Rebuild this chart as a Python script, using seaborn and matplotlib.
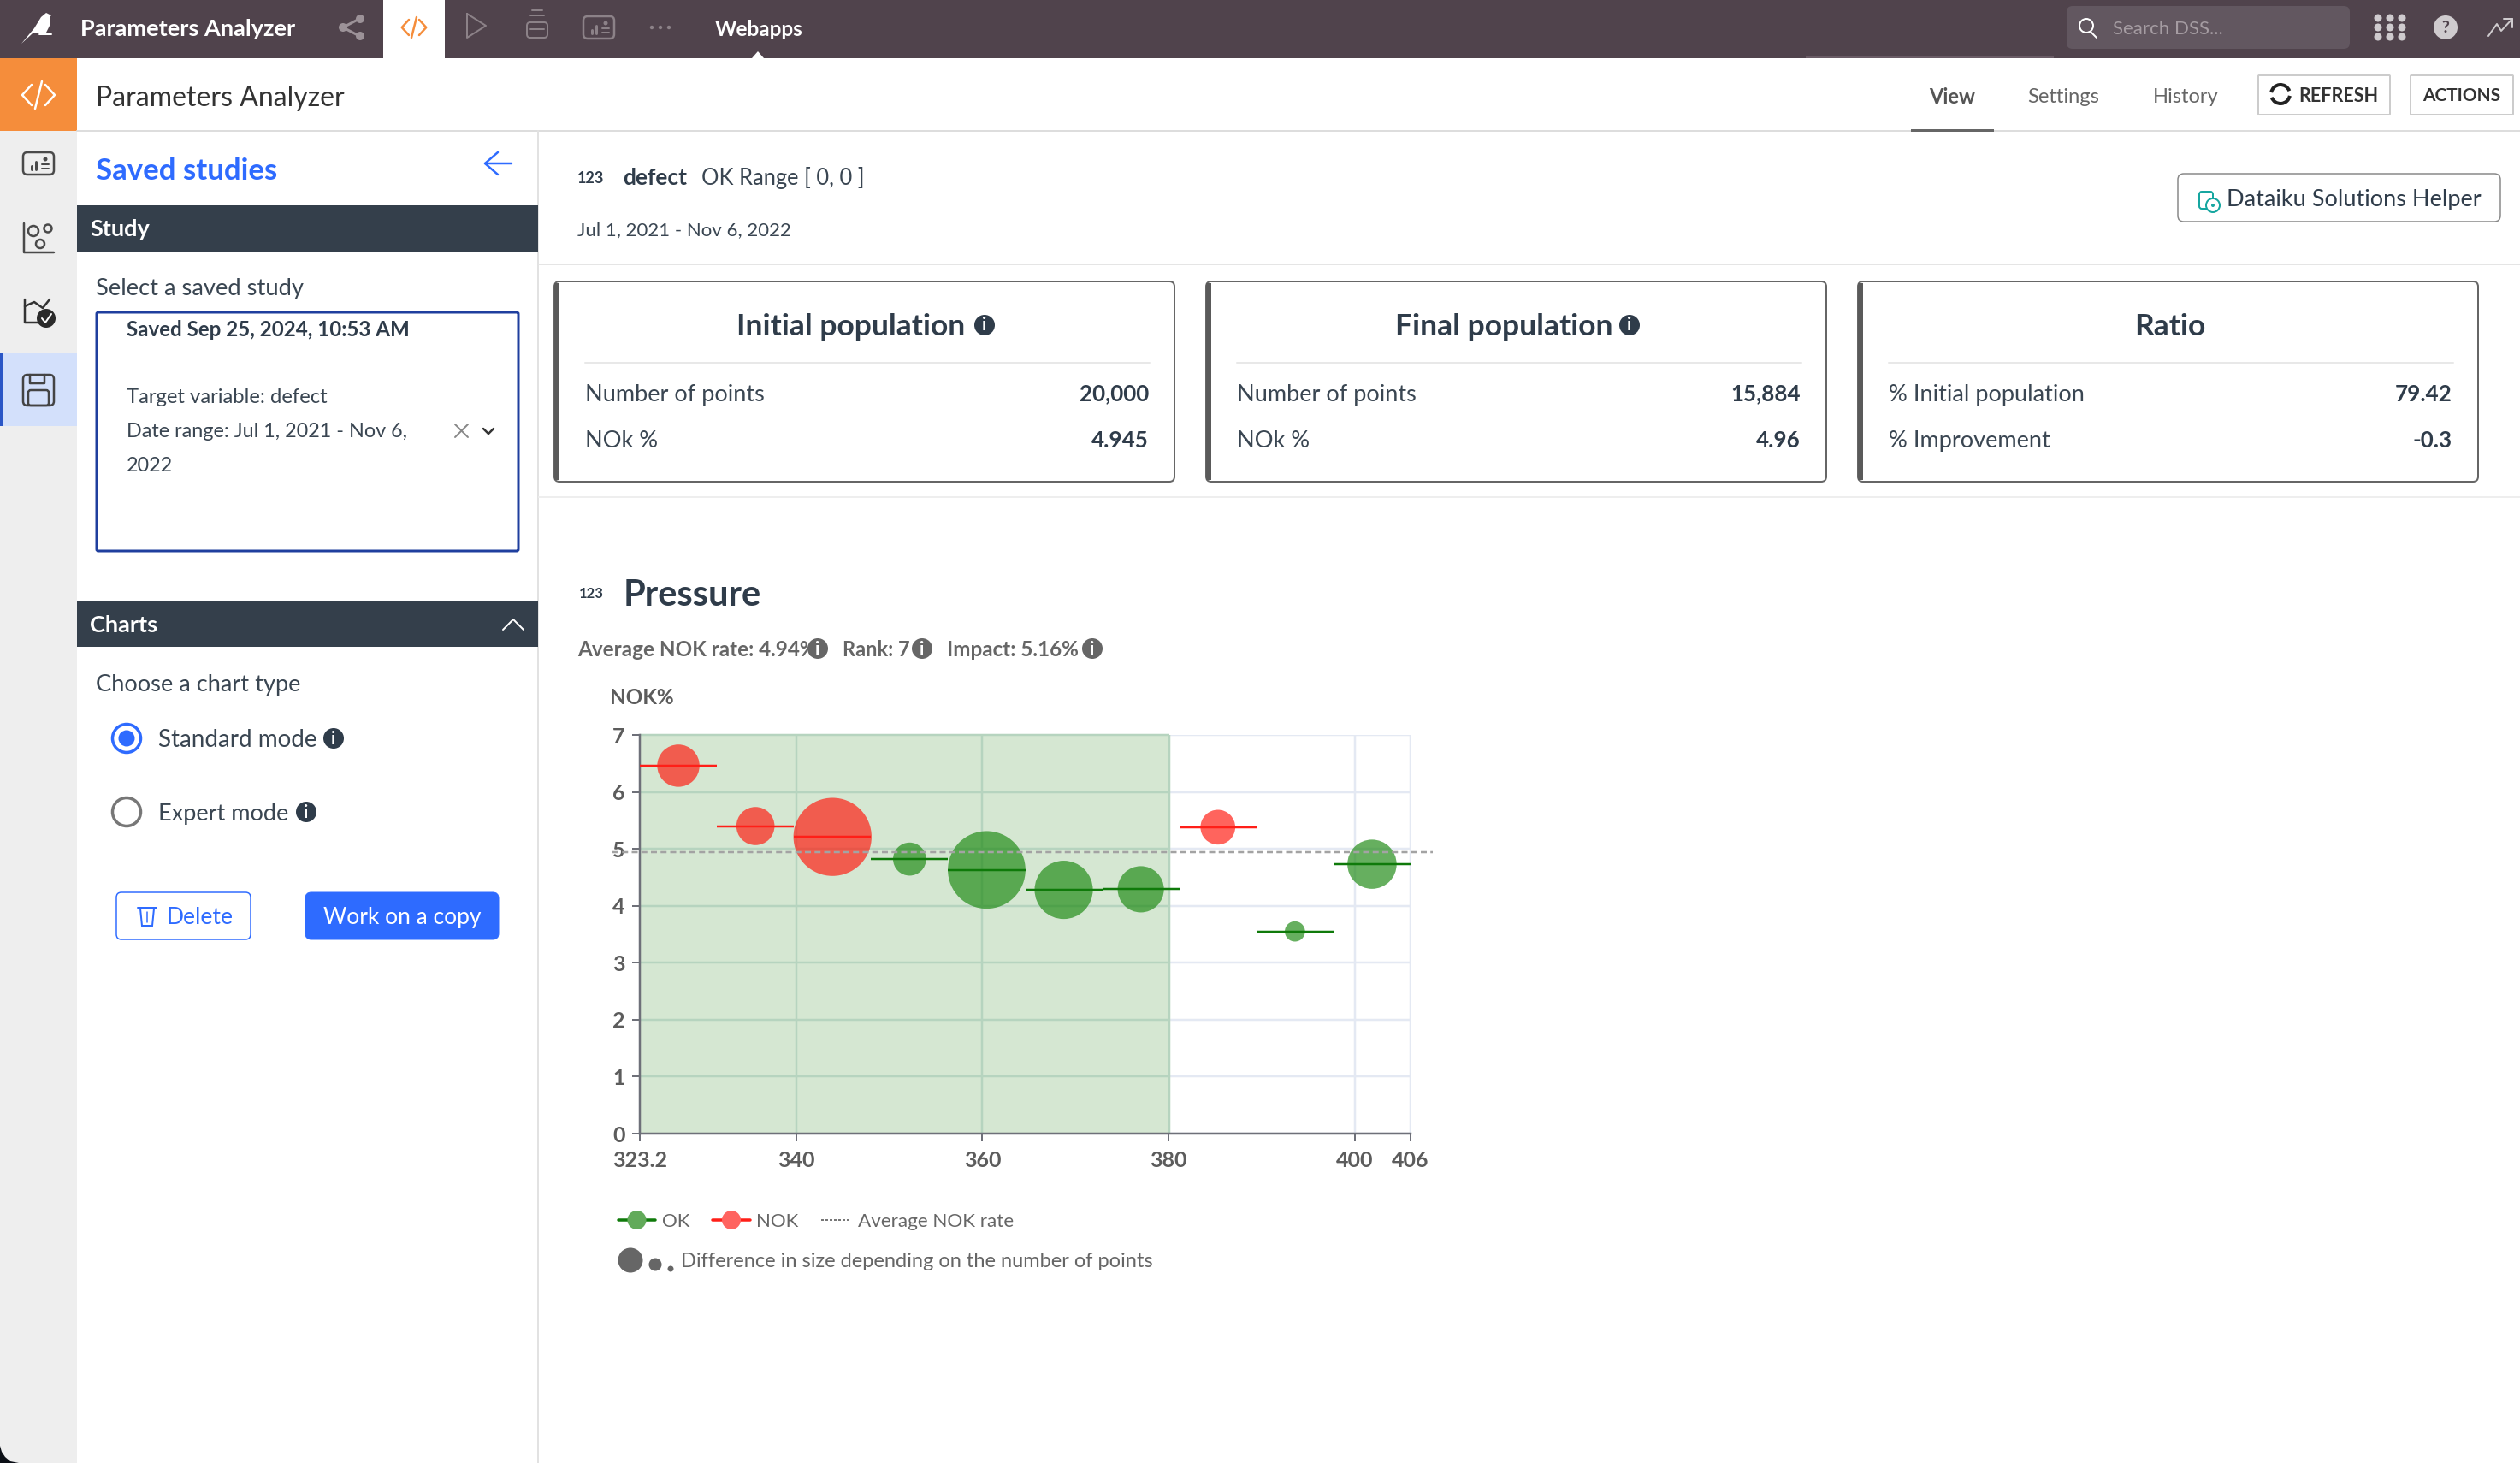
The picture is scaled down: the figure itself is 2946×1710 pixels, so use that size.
import matplotlib
matplotlib.use("Agg")
import matplotlib.pyplot as plt
import numpy as np
import pandas as pd
import seaborn as sns
from matplotlib.patches import Circle, FancyBboxPatch, Polygon, Rectangle, Arc

# chart values
bin_edges = [323.2, 331.48, 339.76, 348.04, 356.32, 364.6, 372.88, 381.16, 389.44, 397.72, 406.0]
bin_centers = [327.34, 335.62, 343.9, 352.18, 360.46, 368.74, 377.02, 385.3, 393.58, 401.86]
nok_rate = [6.46, 5.40, 5.21, 4.82, 4.63, 4.28, 4.29, 5.38, 3.55, 4.73]
n_points = [1375, 1120, 4690, 840, 4630, 2610, 1645, 930, 315, 1860]
status = ['NOK', 'NOK', 'NOK', 'OK', 'OK', 'OK', 'OK', 'NOK', 'OK', 'OK']
avg_nok = 4.94
ok_range = [323.2, 380.1]
x_ticks = [323.2, 340, 360, 380, 400, 406]
x_tick_labels = ['323.2', '340', '360', '380', '400', '406']
y_ticks = [0, 1, 2, 3, 4, 5, 6, 7]
y_tick_labels = ['0', '1', '2', '3', '4', '5', '6', '7']

card_titles = ['Initial population', 'Final population', 'Ratio']
card_rows = [['Number of points', 'NOk %'], ['Number of points', 'NOk %'], ['% Initial population', '% Improvement']]
card_values = [['20,000', '4.945'], ['15,884', '4.96'], ['79.42', '-0.3']]

W, H = 2946, 1710
DARK = '#2f3c4a'
GREY = '#666666'
BLUE = '#2e6bff'
BAR = '#343f4b'
TOP = '#50434c'
RED = '#ff1f18'
BAND_GRID = '#b6d4bf'

sns.set_style("white")
plt.rcParams['font.family'] = ['Lato', 'DejaVu Sans']

fig = plt.figure(figsize=(W / 100, H / 100), dpi=100, facecolor='white')
ui = fig.add_axes([0, 0, 1, 1])
ui.set_xlim(0, W)
ui.set_ylim(H, 0)
ui.axis('off')


def px(v):
    return v * 0.72


def label(x, y, s, size=19, color=DARK, weight='normal', ha='left'):
    ui.text(x, y - 0.5, s, fontsize=size, color=color, fontweight=weight, ha=ha, va='center_baseline')


def rect(x0, y0, x1, y1, color, z=1):
    ui.add_patch(Rectangle((x0, y0), x1 - x0, y1 - y0, facecolor=color, edgecolor='none', zorder=z))


def box(x0, y0, x1, y1, face='white', edge='#888888', lw=2, round_=6):
    ui.add_patch(FancyBboxPatch((x0, y0), x1 - x0, y1 - y0, boxstyle=f'round,pad=0,rounding_size={round_}',
                                facecolor=face, edgecolor=edge, linewidth=px(lw), zorder=2))


def line(xs, ys, color, lw=2, ls='-', z=3):
    ui.plot(xs, ys, color=color, linewidth=px(lw), linestyle=ls, zorder=z, solid_capstyle='round')


def dot(x, y, r, color, z=3, edge='none', lw=0):
    ui.add_patch(Circle((x, y), r, facecolor=color, edgecolor=edge, linewidth=px(lw), zorder=z))


def info(x, y, r=12, color=DARK):
    dot(x, y, r, color)
    ui.text(x, y + 0.5, 'i', fontsize=r * 1.25, color='white', fontweight='bold', ha='center', va='center', zorder=4)


def code_icon(x, y, color, s=1.0):
    line([x - 8 * s, x - 19 * s, x - 8 * s], [y - 12 * s, y, y + 12 * s], color, 2.5)
    line([x + 8 * s, x + 19 * s, x + 8 * s], [y - 12 * s, y, y + 12 * s], color, 2.5)
    line([x - 4 * s, x + 4 * s], [y + 16 * s, y - 16 * s], color, 2.5)


def dash_icon(x, y, color):
    box(x - 18, y - 13, x + 18, y + 13, face='none', edge=color, lw=2.5, round_=5)
    for dx, h in [(-8, 4), (-3, 9)]:
        line([x + dx, x + dx], [y + 7, y + 7 - h], color, 3)
    dot(x + 8, y - 5, 2.5, color)
    line([x + 4, x + 12], [y + 1, y + 1], color, 2)
    line([x + 4, x + 12], [y + 6, y + 6], color, 2)


# top bar
rect(0, 0, W, 68, TOP)
rect(448, 0, 520, 68, 'white')
rect(2111, 66, 2401, 68, '#6a5c66')
ui.add_patch(Polygon([[25, 51], [40, 33], [48, 20], [54, 15], [58, 17], [60, 18], [58, 20], [58, 30], [54, 38], [44, 38], [38, 39]],
                     facecolor='white', edgecolor='none', zorder=3))
line([46, 60], [40, 40], 'white', 2)
label(94, 33, 'Parameters Analyzer', 19.5, 'white', 'bold')
dot(401, 32, 5, '#9c9298')
for dy in (-10, 10):
    line([401, 420], [32, 32 + dy], '#9c9298', 3)
    dot(421, 32 + dy, 5, '#9c9298')
code_icon(484, 32, '#f58d3b', 0.75)
line([546, 546, 568, 546], [16, 44, 30, 16], '#8c8288', 2)
box(616, 26, 640, 44, face='none', edge='#8c8288', lw=2, round_=4)
line([620, 636], [18, 18], '#8c8288', 2)
line([622, 634], [12, 12], '#8c8288', 2)
line([620, 636], [34, 34], '#8c8288', 2)
dash_icon(700, 32, '#8c8288')
for dx in (-10, 0, 10):
    dot(772 + dx, 32, 2.2, '#8c8288')
label(836, 33, 'Webapps', 17.5, 'white', 'bold')
ui.add_patch(Polygon([[879, 68], [886, 60], [893, 68]], facecolor='white', edgecolor='none', zorder=3))
box(2416, 7, 2747, 57, face='#625760', edge='none', lw=0, round_=7)
ui.add_patch(Circle((2439, 30), 8, facecolor='none', edgecolor='white', linewidth=px(2), zorder=3))
line([2444, 2451], [37, 44], 'white', 2)
label(2470, 33, 'Search DSS...', 16, '#a59ca2')
for dx in (-14, 0, 14):
    for dy in (-11, 0, 11):
        dot(2794 + dx, 32 + dy, 4.5, '#cfcbce')
dot(2859, 32, 14, '#cfcbce')
ui.text(2859, 32, '?', fontsize=14, color=TOP, fontweight='bold', ha='center', va='center', zorder=4)
line([2909, 2919, 2924, 2937], [42, 28, 36, 22], '#cfcbce', 2)
line([2927, 2937, 2937], [22, 22, 32], '#cfcbce', 2)

# left rail
rect(0, 68, 90, 153, '#f58d3b')
code_icon(45, 111, 'white', 1.0)
rect(0, 153, 90, H, '#eeeeee')
rect(0, 413, 90, 498, '#d3e0fb')
rect(0, 413, 4, 498, '#2a56c6')
dash_icon(45, 191, '#4a4a4a')
line([28, 28, 63], [261, 295, 295], '#4a4a4a', 2.5)
for cx, cy, r in [(39, 270, 6), (56, 267, 4.5), (47, 285, 5)]:
    ui.add_patch(Circle((cx, cy), r, facecolor='none', edgecolor='#4a4a4a', linewidth=px(2.5), zorder=3))
line([29, 29, 48], [350, 377, 377], '#333333', 2.5)
line([29, 40, 50, 58], [358, 353, 360, 350], '#333333', 2.5)
dot(54, 372, 11, '#2b2b2b')
line([49, 53, 60], [372, 377, 367], 'white', 2)
box(27, 438, 63, 474, face='none', edge='#444444', lw=2.5, round_=5)
box(33, 456, 57, 474, face='none', edge='#444444', lw=2.5, round_=3)
line([35, 35, 52, 52], [438, 448, 448, 438], '#444444', 2.5)
ui.add_patch(Polygon([[0, 1690], [2, 1697], [6, 1703], [12, 1708], [22, 1710], [0, 1710]], facecolor='#0b0f16', edgecolor='none', zorder=4))

# app header
label(112, 112, 'Parameters Analyzer', 23, '#333333')
line([90, W], [153, 153], '#dddddd', 2, z=1)
label(2282, 112, 'View', 17, '#555555', 'bold', 'center')
label(2412, 112, 'Settings', 17, '#666666', 'normal', 'center')
label(2555, 112, 'History', 17, '#666666', 'normal', 'center')
rect(2234, 151, 2331, 154, '#666666', 4)
box(2640, 88, 2794, 134, edge='#cccccc', lw=2, round_=1)
label(2687, 111, 'REFRESH', 15.5, '#333333', 'bold')
ui.add_patch(Arc((2666, 110), 22, 22, theta1=190, theta2=340, color='#222222', linewidth=px(4), zorder=4))
ui.add_patch(Arc((2666, 110), 22, 22, theta1=10, theta2=160, color='#222222', linewidth=px(4), zorder=4))
box(2818, 88, 2938, 134, edge='#cccccc', lw=2, round_=1)
label(2878, 111, 'ACTIONS', 15, '#333333', 'bold', 'center')

# sidebar
line([629, 629], [153, H], '#e2e2e2', 2, z=1)
label(112, 197, 'Saved studies', 25, BLUE, 'bold')
line([567, 598], [191, 191], BLUE, 2.5)
line([582, 567, 582], [178, 191, 204], BLUE, 2.5)
rect(90, 240, 629, 294, BAR)
label(105, 267, 'Study', 19.5, 'white', 'bold')
label(112, 336, 'Select a saved study', 19.7, '#3a4652')
box(113, 365, 606, 644, edge='#1f3f9e', lw=3, round_=2)
label(148, 384, 'Saved Sep 25, 2024, 10:53 AM', 17.4, '#2f3c4a', 'bold')
label(148, 463, 'Target variable: defect', 17.2, '#3a4652')
label(148, 503, 'Date range: Jul 1, 2021 - Nov 6,', 16.8, '#3a4652')
label(148, 543, '2022', 16.8, '#3a4652')
line([532, 547], [496, 511], '#888888', 2)
line([532, 547], [511, 496], '#888888', 2)
line([565, 571, 577], [501, 507, 501], '#333333', 2.5)
rect(90, 703, 629, 756, BAR)
label(105, 729, 'Charts', 19.5, 'white', 'bold')
line([588, 600, 612], [736, 724, 736], 'white', 2)
label(112, 798, 'Choose a chart type', 19.6, '#3a4652')
ui.add_patch(Circle((148, 863), 16.5, facecolor='white', edgecolor=BLUE, linewidth=px(3.5), zorder=3))
dot(148, 863, 9.5, BLUE, z=4)
label(185, 863, 'Standard mode', 20, '#3a4652')
info(390, 863)
ui.add_patch(Circle((148, 949), 16.5, facecolor='white', edgecolor='#777777', linewidth=px(3.5), zorder=3))
label(185, 949, 'Expert mode', 19.5, '#3a4652')
info(358, 949)
box(136, 1043, 293, 1098, edge=BLUE, lw=1.5, round_=6)
ui.add_patch(Polygon([[164, 1062], [180, 1062], [178, 1082], [166, 1082]], facecolor='none', edgecolor=BLUE, linewidth=px(2), zorder=3))
line([161, 183], [1061, 1061], BLUE, 2)
line([172, 172], [1066, 1078], BLUE, 1.5)
label(195, 1070, 'Delete', 19, BLUE)
box(357, 1043, 583, 1098, face=BLUE, edge=BLUE, lw=1, round_=7)
label(470, 1070, 'Work on a copy', 19, 'white', 'normal', 'center')

# study summary
line([630, W], [309, 309], '#e5e5e5', 2, z=1)
line([630, W], [581, 581], '#eeeeee', 2, z=1)
label(675, 208, '123', 13, DARK, 'bold')
label(728, 206, 'defect', 19, DARK, 'bold')
label(820, 206, 'OK Range [ 0, 0 ]', 18.4, '#3a4652')
label(675, 268, 'Jul 1, 2021 - Nov 6, 2022', 16, '#3a4652')
box(2546, 203, 2923, 259, edge='#888888', lw=1.5, round_=7)
box(2571, 224, 2587, 244, face='none', edge='#16a6a0', lw=2, round_=3)
dot(2587, 240, 8, 'white', z=3, edge='#16a6a0', lw=2)
dot(2587, 240, 2, '#16a6a0', z=4)
label(2603, 231, 'Dataiku Solutions Helper', 19.5, DARK)

card_x = [648, 1410, 2172]
title_x = [995, 1758, 2537]
info_x = [1151, 1905, None]
for i, cx in enumerate(card_x):
    box(cx, 329, cx + 725, 563, edge='#666666', lw=2, round_=6)
    rect(cx, 331, cx + 6, 561, '#5a5a5a', 3)
    label(title_x[i], 380, card_titles[i], 25.5, DARK, 'bold', 'center')
    if info_x[i]:
        info(info_x[i], 380)
    line([cx + 36, cx + 696], [424, 424], '#e8e8e8', 2)
    label(cx + 36, 459, card_rows[i][0], 19.5, '#3a4652')
    label(cx + 695, 459, card_values[i][0], 18.7, DARK, 'bold', 'right')
    label(cx + 36, 513, card_rows[i][1], 19.5, '#3a4652')
    label(cx + 695, 513, card_values[i][1], 18.7, DARK, 'bold', 'right')

# variable header
label(677, 693, '123', 12, DARK, 'bold')
label(729, 693, 'Pressure', 30, DARK, 'bold')
label(675, 758, 'Average NOK rate: 4.94%', 17.5, GREY, 'bold')
info(956, 758, 12, GREY)
label(985, 758, 'Rank: 7', 17, GREY, 'bold')
info(1078, 758, 12, GREY)
label(1107, 758, 'Impact: 5.16%', 17.5, GREY, 'bold')
info(1277, 758, 12, GREY)
label(713, 814, 'NOK%', 17.5, '#5c5c5c', 'bold')

# chart
df = pd.DataFrame({'pressure': bin_centers, 'nok_rate': nok_rate, 'n_points': n_points, 'status': status,
                   'lo': bin_edges[:-1], 'hi': bin_edges[1:]})
ax = fig.add_axes([748 / W, 1 - 1325 / H, 901 / W, 466 / H], facecolor='none')
ax.set_xlim(bin_edges[0], bin_edges[-1])
ax.set_ylim(0, 7)
ax.grid(True, color='#e4e9f3', linewidth=px(2.5))
ax.set_axisbelow(True)
ax.axvspan(ok_range[0], ok_range[1], facecolor='#d5e7d2', edgecolor='none', zorder=1)
ax.hlines(y_ticks[1:], ok_range[0], ok_range[1], color=BAND_GRID, linewidth=px(2.5), zorder=1.5, clip_on=False)
ax.vlines([340, 360, ok_range[1]], 0, 7, color=BAND_GRID, linewidth=px(2.5), zorder=1.5)
k = 0.9216
sns.scatterplot(data=df, x='pressure', y='nok_rate', hue='status', size='n_points',
                palette={'OK': '#1e8a14', 'NOK': '#ff1a10'}, hue_order=['OK', 'NOK'],
                sizes=(min(n_points) * k, max(n_points) * k), size_norm=(min(n_points), max(n_points)),
                alpha=0.68, linewidth=0, legend=False, ax=ax, zorder=3, clip_on=False)
for color, name in [('#0f7a0a', 'OK'), (RED, 'NOK')]:
    part = df[df['status'] == name]
    ax.hlines(part['nok_rate'], part['lo'], part['hi'], color=color, linewidth=px(2.5), zorder=4)
ax.plot([-0.035, 1.029], [avg_nok, avg_nok], transform=ax.get_yaxis_transform(), color='#a3a3a3',
        linewidth=px(2.5), linestyle=(0, (2.8, 1.7)), clip_on=False, zorder=5)
ax.set_xticks(x_ticks, labels=x_tick_labels, fontweight='bold', fontsize=18)
ax.set_yticks(y_ticks, labels=y_tick_labels, fontweight='bold', fontsize=18)
ax.set_xlabel('')
ax.set_ylabel('')
ax.tick_params(axis='both', length=px(9), width=px(2), color='#6e7079', labelcolor='#5c5c5c', pad=6, bottom=True, left=True)
ax.tick_params(axis='x', pad=8)
sns.despine(ax=ax, top=True, right=True)
for side in ('left', 'bottom'):
    ax.spines[side].set_color('#6e7079')
    ax.spines[side].set_linewidth(px(2.5))

# chart legend
line([723, 766], [1426, 1426], '#0f7a0a', 3.5)
dot(744.5, 1426, 11, '#62aa5a', z=4)
label(774, 1426, 'OK', 16, GREY)
line([833, 877], [1426, 1426], RED, 3.5)
dot(855, 1426, 11, '#ff6460', z=4)
label(884, 1426, 'NOK', 16, GREY)
line([960, 993], [1426, 1426], '#777777', 2, ls=(0, (1.5, 1)))
label(1003, 1426, 'Average NOK rate', 16.2, GREY)
dot(737, 1473, 14.5, GREY)
dot(766, 1478, 7.5, GREY)
dot(784, 1483, 3.5, GREY)
label(796, 1473, 'Difference in size depending on the number of points', 17, GREY)

fig.savefig('out.png', dpi=100)
